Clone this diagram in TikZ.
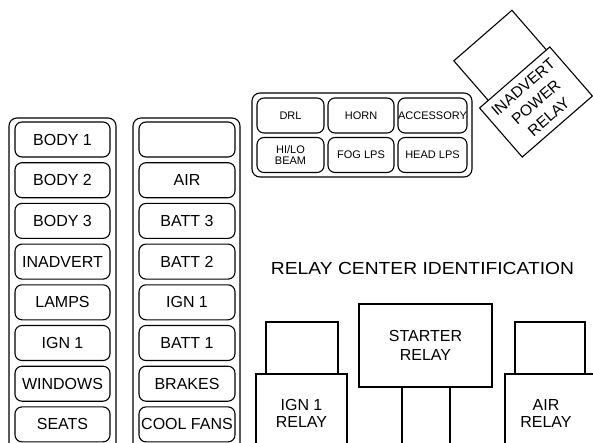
\documentclass[tikz,border=0pt]{standalone}
\usepackage{fontspec}
\setmainfont{Liberation Sans}
\begin{document}
\begin{tikzpicture}[x=1pt,y=-1pt,
  line width=1.1pt,
  fuse/.style={draw, rounded corners=7pt, minimum width=95pt, minimum height=35pt, inner sep=0pt, font=\fontsize{16}{18}\selectfont},
  frame/.style={draw, rounded corners=8pt},
  mini/.style={draw, rounded corners=7pt, minimum width=67pt, minimum height=35pt, inner sep=0pt, align=center, font=\fontsize{11}{11.5}\selectfont},
  relaybox/.style={draw, fill=white, inner sep=0pt, align=center, font=\fontsize{16}{18.5}\selectfont},
  plainbox/.style={draw, inner sep=0pt},
  lbl/.style={align=center, inner sep=0pt, font=\fontsize{16}{17}\selectfont}]
\useasboundingbox (0,0) rectangle (593,442);
\begin{scope}
\clip (0,0) rectangle (593,442);
% left column
\draw[frame] (9,118) rectangle (116,470);
\foreach \t [count=\i] in {BODY 1,BODY 2,BODY 3,INADVERT,LAMPS,IGN 1,WINDOWS,SEATS}
  \node[fuse] (L\i) at (62.5,{139.5+40.7*(\i-1)}) {\t};
% right column
\draw[frame] (133,118) rectangle (240,470);
\node[fuse, minimum width=96pt] (R1) at (187,139.5) {};
\foreach \t [count=\i from 2] in {AIR,BATT 3,BATT 2,IGN 1,BATT 1,BRAKES,COOL FANS}
  \node[fuse, minimum width=96pt] (R\i) at (187,{139.5+40.7*(\i-1)}) {\t};
% top middle block
\draw[frame] (252,93) rectangle (472,177);
\node[mini] (drl) at (290.5,115.5) {DRL};
\node[mini, minimum width=66pt] (horn) at (361,115.5) {HORN};
\node[mini, minimum width=69pt] (acc) at (432.5,115.5) {ACCESSORY};
\node[mini] (hilo) at (290.5,155) {HI/LO\\BEAM};
\node[mini, minimum width=66pt] (fog) at (361,155) {FOG LPS};
\node[mini, minimum width=69pt] (head) at (432.5,155) {HEAD LPS};
% title
\node[inner sep=0pt, font=\fontsize{17.5}{20}\selectfont] (title) at (422.5,268) {\scalebox{1.1}[1]{RELAY CENTER IDENTIFICATION}};
% IGN 1 relay
\node[plainbox, minimum width=72pt, minimum height=58pt] (ignS) at (302,351) {};
\node[relaybox, minimum width=91pt, minimum height=96pt] (ignB) at (301.5,422) {};
\node[lbl] (ignT) at (301.5,413) {IGN 1\\RELAY};
% starter relay
\node[plainbox, minimum width=48pt, minimum height=80pt] (stS) at (426,420) {};
\node[relaybox, minimum width=133pt, minimum height=83pt] (stB) at (425.5,345.5) {STARTER\\RELAY};
% AIR relay
\node[plainbox, minimum width=70pt, minimum height=58pt] (airS) at (550,351) {};
\node[relaybox, minimum width=91pt, minimum height=96pt] (airB) at (550.5,422) {};
\node[lbl] (airT) at (546,413) {AIR\\RELAY};
% inadvert power relay
\begin{scope}[shift={(536,102)}, rotate=41, transform shape]
\node[plainbox, minimum width=77pt, minimum height=60pt] (ipS) at (3.5,-55) {};
\node[relaybox, minimum width=93pt, minimum height=65pt, font=\fontsize{15.5}{19.5}\selectfont] (ipB) at (0,0) {INADVERT\\POWER\\RELAY};
\end{scope}
\end{scope}
\end{tikzpicture}
\end{document}
